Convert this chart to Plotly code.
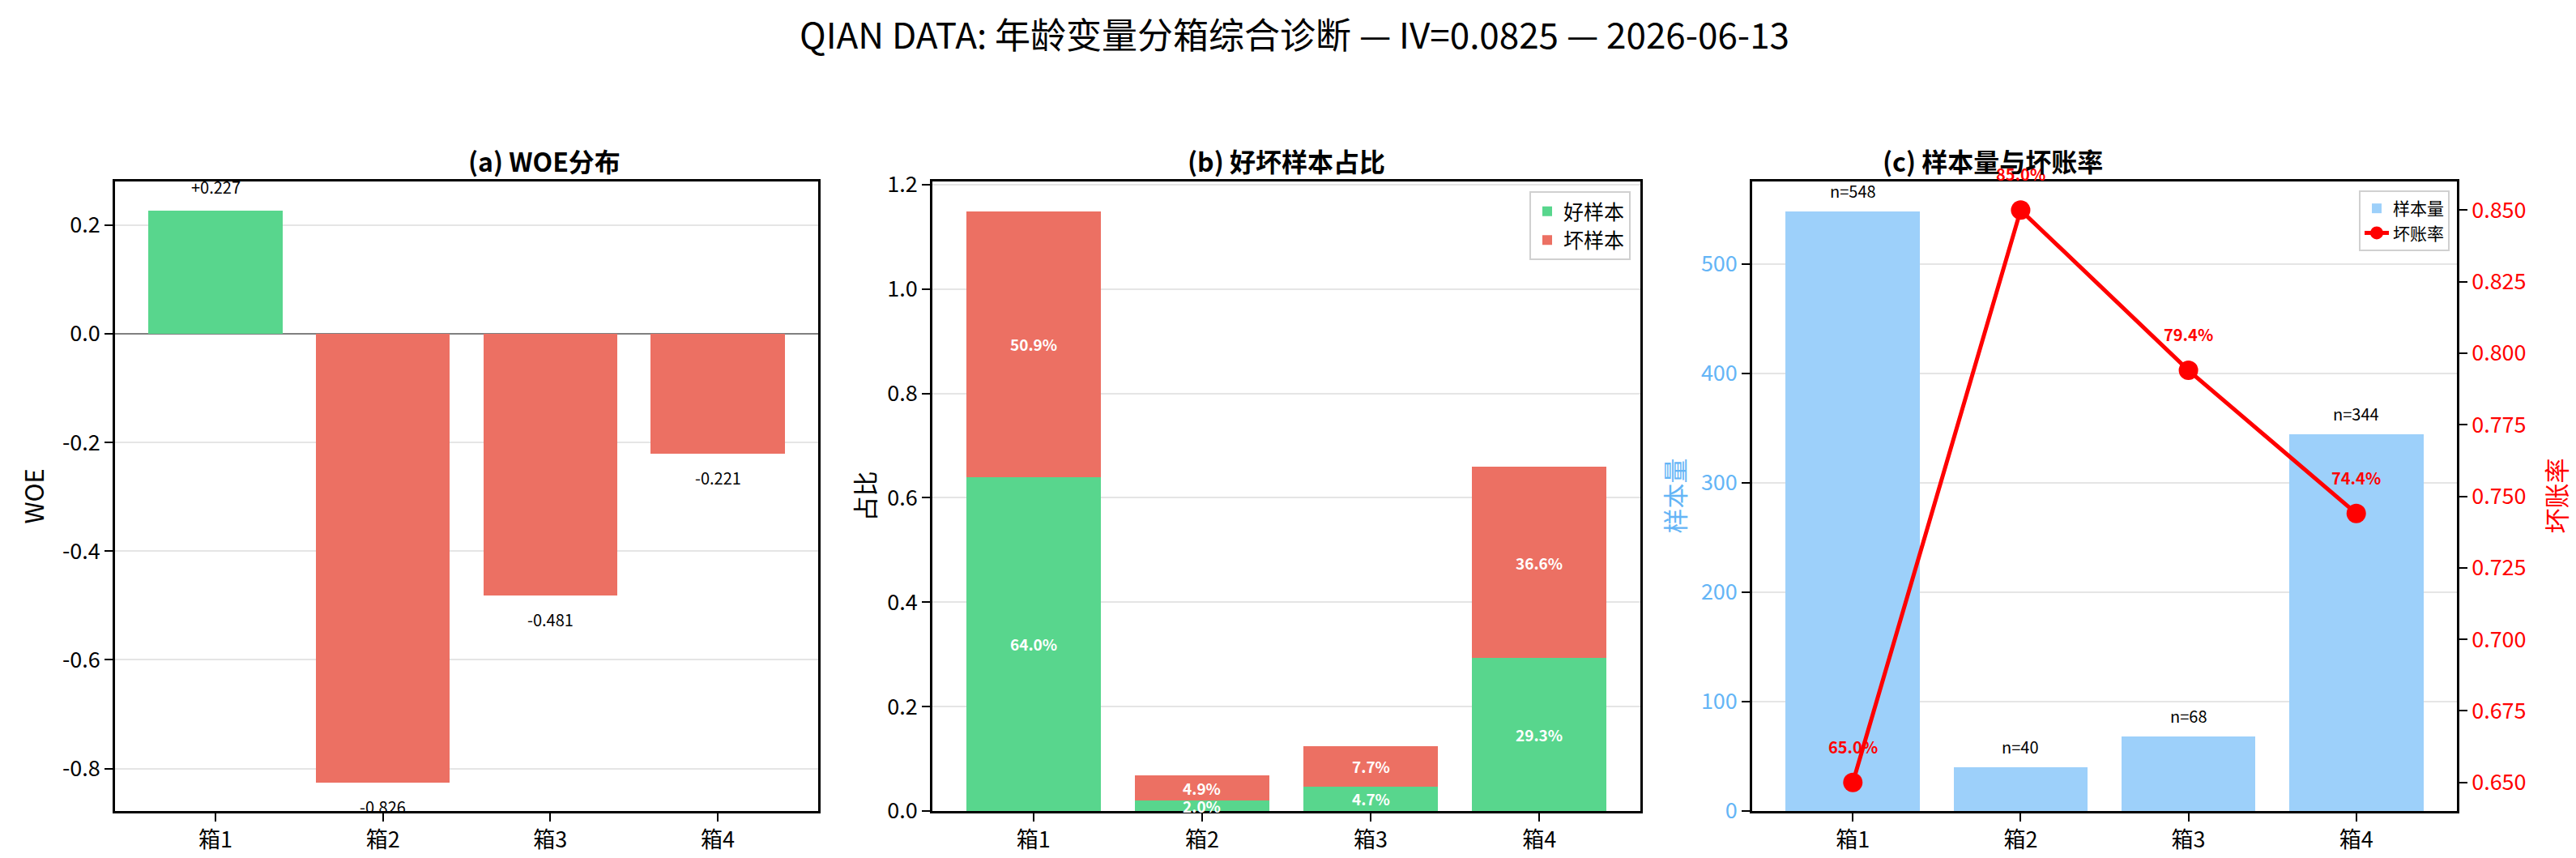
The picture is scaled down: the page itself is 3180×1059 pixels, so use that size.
import plotly.graph_objects as go

# binned diagnostics for the age variable
bins = ["箱1", "箱2", "箱3", "箱4"]
woe = [0.227, -0.826, -0.481, -0.221]
good_pct = [0.640, 0.020, 0.047, 0.293]
bad_pct = [0.509, 0.049, 0.077, 0.366]
counts = [548, 40, 68, 344]
bad_rate = [0.650, 0.850, 0.794, 0.744]
iv = 0.0825
run_date = "2026-06-13"

W, H = 3180, 1059
FONT = "Noto Sans CJK SC"
GREEN = "#58D68D"
RED = "#EC7063"
BLUE_BAR = "#9dd0fa"
BLUE_TXT = "#64B5F6"


def fx(p):
    return p / W


def fy(p):
    return 1 - p / H


y_dom = [fy(993), fy(216)]
x_doms = [[fx(134), fx(1002)], [fx(1143), fx(2017)], [fx(2155), fx(3025)]]

axis_style = dict(
    showline=True, linecolor="black", linewidth=2.5,
    ticks="outside", ticklen=10, tickwidth=2, tickcolor="black",
    tickfont=dict(size=27, color="black"), automargin=False,
    showgrid=False, zeroline=False,
)
grid = dict(showgrid=True, gridcolor="rgba(0,0,0,0.1)", gridwidth=2, layer="above traces")

fig = go.Figure()

# (a) WOE distribution
fig.add_trace(go.Bar(
    x=bins, y=woe, marker_color=[GREEN if v > 0 else RED for v in woe],
    marker_line_width=0, showlegend=False, xaxis="x", yaxis="y",
))

# (b) good / bad share, stacked
fig.add_trace(go.Bar(
    x=bins, y=good_pct, name="好样本", marker_color=GREEN, marker_line_width=0,
    xaxis="x2", yaxis="y2", legend="legend",
))
fig.add_trace(go.Bar(
    x=bins, y=bad_pct, name="坏样本", marker_color=RED, marker_line_width=0,
    xaxis="x2", yaxis="y2", legend="legend",
))

# (c) sample count and bad rate
fig.add_trace(go.Bar(
    x=bins, y=counts, name="样本量", marker_color=BLUE_BAR, marker_line_width=0,
    xaxis="x3", yaxis="y3", legend="legend2",
))
fig.add_trace(go.Scatter(
    x=bins, y=bad_rate, name="坏账率", mode="lines+markers",
    line=dict(color="red", width=5), marker=dict(color="red", size=24),
    xaxis="x3", yaxis="y4", legend="legend2",
))

ann = []
for b, v in zip(bins, woe):
    ann.append(dict(
        x=b, y=v, xref="x", yref="y", text=f"{v:+.3f}" if v > 0 else f"{v:.3f}",
        showarrow=False, font=dict(size=20, color="black"),
        yanchor="bottom" if v > 0 else "top", yshift=13 if v > 0 else -13,
    ))
for b, g, r in zip(bins, good_pct, bad_pct):
    ann.append(dict(x=b, y=g / 2, xref="x2", yref="y2", text=f"{g:.1%}", showarrow=False,
                    font=dict(size=19, color="white", weight="bold")))
    ann.append(dict(x=b, y=g + r / 2, xref="x2", yref="y2", text=f"{r:.1%}", showarrow=False,
                    font=dict(size=19, color="white", weight="bold")))
for b, n in zip(bins, counts):
    ann.append(dict(x=b, y=n, xref="x3", yref="y3", text=f"n={n}", showarrow=False,
                    font=dict(size=20, color="black"), yanchor="bottom", yshift=9))
for b, r in zip(bins, bad_rate):
    ann.append(dict(x=b, y=r, xref="x3", yref="y4", text=f"{r:.1%}", showarrow=False,
                    font=dict(size=20, color="red", weight="bold"), yanchor="bottom", yshift=28))

# subplot titles
for txt, dom in zip(["(a) WOE分布", "(b) 好坏样本占比", "(c) 样本量与坏账率"], x_doms):
    ann.append(dict(x=(dom[0] + dom[1]) / 2, y=fy(190), xref="paper", yref="paper",
                    text=f"<b>{txt}</b>", showarrow=False, font=dict(size=32, color="black"),
                    yanchor="middle"))

# axis titles
yc = fy((216 + 993) / 2)
for txt, px, col in [("WOE", 32, "black"), ("占比", 1058, "black"),
                     ("样本量", 2058, BLUE_TXT), ("坏账率", 3146, "red")]:
    ann.append(dict(x=fx(px), y=yc, xref="paper", yref="paper", text=txt, textangle=-90,
                    showarrow=False, font=dict(size=31, color=col), xanchor="center"))

fig.update_layout(
    width=W, height=H,
    margin=dict(l=0, r=0, t=0, b=0),
    paper_bgcolor="white", plot_bgcolor="white",
    font=dict(family=FONT, color="black"),
    barmode="stack", bargap=0.2,
    title=dict(text=f"QIAN DATA: 年龄变量分箱综合诊断 — IV={iv} — {run_date}",
               x=0.5, xanchor="center", y=fy(37), yanchor="middle",
               font=dict(size=44, color="black")),
    annotations=ann,
    xaxis=dict(axis_style, domain=x_doms[0], anchor="y", mirror=True, range=[-0.6, 3.6]),
    yaxis=dict(axis_style, **grid, domain=y_dom, anchor="x", mirror=True, range=[-0.878, 0.280],
               tickvals=[-0.8, -0.6, -0.4, -0.2, 0.0, 0.2],
               ticktext=["-0.8", "-0.6", "-0.4", "-0.2", "0.0", "0.2"]),
    xaxis2=dict(axis_style, domain=x_doms[1], anchor="y2", mirror=True, range=[-0.6, 3.6]),
    yaxis2=dict(axis_style, **grid, domain=y_dom, anchor="x2", mirror=True, range=[0, 1.206],
                dtick=0.2, tickformat=".1f"),
    xaxis3=dict(axis_style, domain=x_doms[2], anchor="y3", mirror=True, range=[-0.6, 3.6]),
    yaxis3=dict(axis_style, **grid, domain=y_dom, anchor="x3", range=[0, 575.4], dtick=100,
                tickfont=dict(size=27, color=BLUE_TXT)),
    yaxis4=dict(axis_style, domain=y_dom, anchor="x3", overlaying="y3", side="right",
                range=[0.64, 0.86], dtick=0.025, tickformat=".3f",
                tickfont=dict(size=27, color="red")),
    legend=dict(x=fx(2005), xanchor="right", y=fy(228), yanchor="top", traceorder="normal",
                bgcolor="rgba(255,255,255,0.8)", bordercolor="#d0d0d0", borderwidth=2,
                font=dict(size=25, color="black")),
    legend2=dict(x=fx(3016), xanchor="right", y=fy(227), yanchor="top", traceorder="normal",
                 bgcolor="rgba(255,255,255,0.8)", bordercolor="#d0d0d0", borderwidth=2,
                 font=dict(size=21, color="black")),
)

# gray reference line at WOE = 0
fig.update_yaxes(zeroline=True, zerolinecolor="gray", zerolinewidth=2, selector=dict(anchor="x"))

fig.write_html("out.html")
